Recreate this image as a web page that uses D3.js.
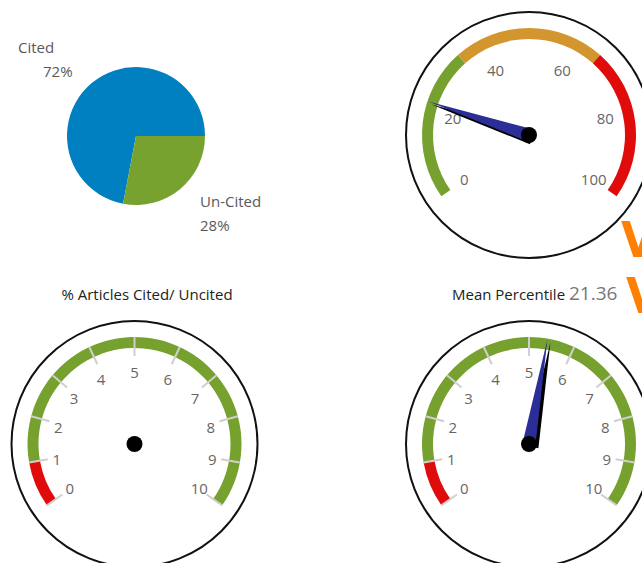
<!DOCTYPE html>
<html>
<head>
<meta charset="utf-8">
<script src="https://cdn.jsdelivr.net/npm/d3@7"></script>
<style>
  body { margin: 0; background: #fff; }
  svg { display: block; font-family: "Open Sans", sans-serif; }
</style>
</head>
<body>
<svg id="chart" width="642" height="563"></svg>
<script>
// pie data
const pieCategories = ["Cited", "Un-Cited"];
const pieValues = [72, 28];
const pieColors = ["#0080C0", "#77A22F"];

// top gauge: mean percentile 0-100
const percentileValue = 21.36;
const percentileDomain = [0, 100];
const percentileBands = [0, 33.33, 66.67, 100];
const percentileBandColors = ["#76A12F", "#D3962F", "#E00C0C"];
const percentileTicks = [0, 20, 40, 60, 80, 100];

// bottom gauges: 0-10
const scoreDomain = [0, 10];
const scoreBands = [0, 1, 10];
const scoreBandColors = ["#E00C0C", "#76A12F"];
const scoreTicks = [0, 1, 2, 3, 4, 5, 6, 7, 8, 9, 10];
const citedGaugeValue = null;
const meanGaugeValue = 5.4;

const titles = ["% Articles Cited/ Uncited", "Mean Percentile"];

const svg = d3.select("#chart");
const deg = Math.PI / 180;

// ---- pie ----
const pieCx = 136, pieCy = 136, pieR = 69;
const total = d3.sum(pieValues);
const start = Math.PI / 2 + 2 * Math.PI * pieValues[1] / total;
const pie = d3.pie().sort(null).startAngle(start).endAngle(start + 2 * Math.PI);
const arcs = pie(pieValues);
const arc = d3.arc().innerRadius(0).outerRadius(pieR);

const pg = svg.append("g").attr("transform", `translate(${pieCx},${pieCy})`);
pg.selectAll("path")
  .data(arcs)
  .enter()
  .append("path")
  .attr("d", arc)
  .attr("fill", (d, i) => pieColors[i]);

// label spots (name line, percent line), relative to the pie centre
const labelSpots = [
  { x: -118, y: -83, px: -93 },
  { x: 64, y: 71, px: 64 }
];
const lg = pg.append("g").attr("fill", "#595959").style("font-size", "15px");
arcs.forEach((d, i) => {
  const s = labelSpots[i];
  lg.append("text").attr("x", s.x).attr("y", s.y).text(pieCategories[i]);
  lg.append("text").attr("x", s.px).attr("y", s.y + 24)
    .text(Math.round(pieValues[i] / total * 100) + "%");
});

// ---- gauges ----
const rimR = 123, bandOuter = 107, bandInner = 96, needleLen = 106;

function gauge(cx, cy, domain, bands, bandColors, ticks, value, tickMarks) {
  const angle = d3.scaleLinear().domain(domain).range([-125 * deg, 125 * deg]);
  const g = svg.append("g").attr("transform", `translate(${cx},${cy})`);

  g.append("circle")
    .attr("r", rimR)
    .attr("fill", "#fff")
    .attr("stroke", "#111")
    .attr("stroke-width", 2);

  const bandArc = d3.arc().innerRadius(bandInner).outerRadius(bandOuter);
  g.selectAll("path.band")
    .data(d3.pairs(bands))
    .enter()
    .append("path")
    .attr("class", "band")
    .attr("d", d => bandArc({ startAngle: angle(d[0]), endAngle: angle(d[1]) }))
    .attr("fill", (d, i) => bandColors[i]);

  if (tickMarks) {
    g.selectAll("line.tick")
      .data(ticks)
      .enter()
      .append("line")
      .attr("class", "tick")
      .attr("x1", d => 88 * Math.sin(angle(d)))
      .attr("y1", d => -88 * Math.cos(angle(d)))
      .attr("x2", d => bandOuter * Math.sin(angle(d)))
      .attr("y2", d => -bandOuter * Math.cos(angle(d)))
      .attr("stroke", "#cfcfcf")
      .attr("stroke-width", 2);
  }

  g.selectAll("text.lbl")
    .data(ticks)
    .enter()
    .append("text")
    .attr("class", "lbl")
    .attr("x", d => 79 * Math.sin(angle(d)))
    .attr("y", d => -74 * Math.cos(angle(d)) + 8)
    .attr("text-anchor", "middle")
    .attr("fill", "#666")
    .style("font-size", "15px")
    .text(d => d);

  if (value != null) {
    const a = angle(value);
    const needle = () => {
      const tip = [needleLen * Math.sin(a), -needleLen * Math.cos(a)];
      const w = 6.5;
      const b1 = [w * Math.cos(a), w * Math.sin(a)];
      const b2 = [-w * Math.cos(a), -w * Math.sin(a)];
      return d3.line()([b1, tip, b2]) + "Z";
    };
    // shadow under the needle
    g.append("path").attr("d", needle()).attr("fill", "#000")
      .attr("transform", "translate(3,3)");
    g.append("path").attr("d", needle()).attr("fill", "#2B2E96");
  }

  g.append("circle").attr("r", 8).attr("fill", "#000");
  return g;
}

gauge(529, 135, percentileDomain, percentileBands, percentileBandColors, percentileTicks, percentileValue, false);
gauge(134.5, 444, scoreDomain, scoreBands, scoreBandColors, scoreTicks, citedGaugeValue, true);
gauge(529, 444, scoreDomain, scoreBands, scoreBandColors, scoreTicks, meanGaugeValue, true);

// ---- titles ----
svg.append("text")
  .attr("x", 147).attr("y", 300)
  .attr("text-anchor", "middle")
  .attr("fill", "#222")
  .style("font-size", "15px")
  .text(titles[0]);

const t2 = svg.append("text").attr("x", 452).attr("y", 300).attr("fill", "#222").style("font-size", "15px");
t2.append("tspan").text(titles[1] + " ");
t2.append("tspan").attr("fill", "#777").style("font-size", "19px").text(percentileValue);

// orange headings cut off at the right edge
const vg = svg.append("g")
  .attr("fill", "#FF7F00")
  .style("font-family", "'DejaVu Sans Condensed', 'DejaVu Sans', sans-serif")
  .style("font-size", "50px")
  .style("font-weight", "bold");
vg.append("text").attr("x", 621).attr("y", 257).text("V");
vg.append("text").attr("x", 626).attr("y", 313).text("V");
</script>
</body>
</html>
